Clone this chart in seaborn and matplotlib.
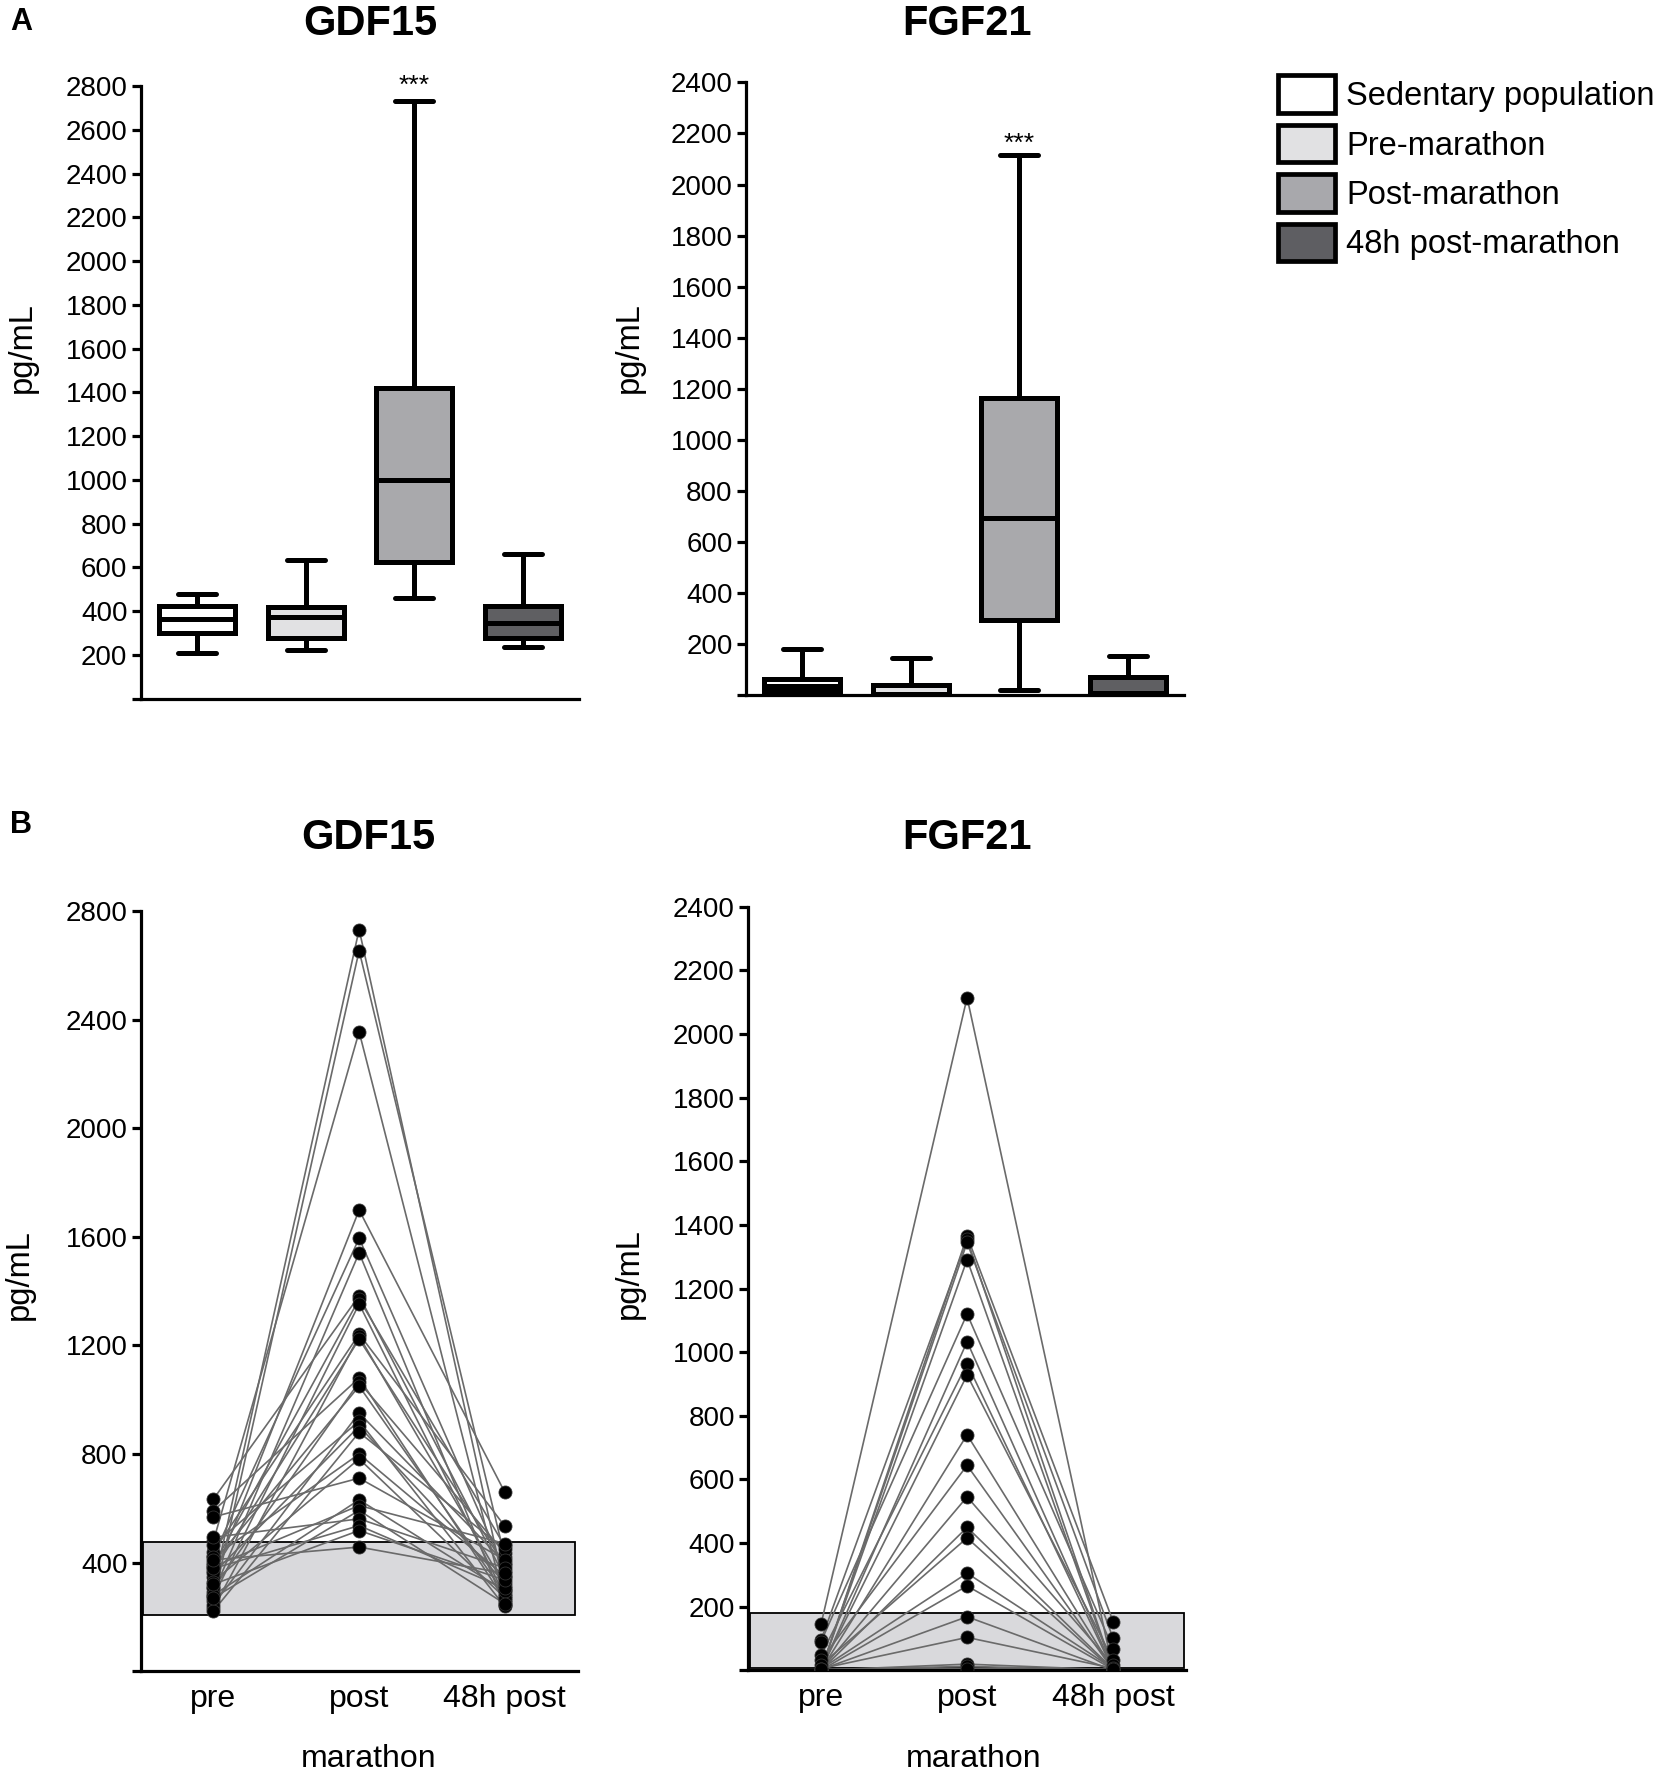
import numpy as np
import pandas as pd
import matplotlib.pyplot as plt
from matplotlib.patches import Patch
import seaborn as sns

sns.set_theme(style="ticks")
plt.rcParams['font.family'] = ['Liberation Sans', 'DejaVu Sans']
plt.rcParams['text.color'] = 'black'
plt.rcParams['axes.labelcolor'] = 'black'

# groups of panel A and their box fills
groups = ["Sedentary population", "Pre-marathon", "Post-marathon", "48h post-marathon"]
box_colors = ["#ffffff", "#e1e1e3", "#a8a8ac", "#5e5e62"]

# five-number summaries (min, q1, median, q3, max)
gdf15_sed = [206, 298, 362, 424, 476]
gdf15_pre = [221, 278, 374, 420, 634]
gdf15_post = [458, 622, 1000, 1420, 2730]
gdf15_48h = [237, 275, 347, 423, 660]

fgf21_sed = [8, 17, 37, 63, 180]
fgf21_pre = [0, 2, 4, 38, 144]
fgf21_post = [18, 292, 695, 1165, 2115]
fgf21_48h = [0, 3, 6, 69, 154]

# paired subjects of panel B
stages = ["pre", "post", "48h post"]
gdf15_b_pre = [310, 260, 480, 345, 425, 290, 634, 390, 275, 440, 232, 370, 591, 305, 400,
               245, 465, 360, 222, 420, 330, 568, 280, 385, 270, 493, 378, 320, 410]
gdf15_b_post = [2733, 2655, 2356, 1699, 1595, 1541, 1383, 1371, 1353, 1242, 1234, 1223, 1080, 1065, 1050,
                951, 921, 902, 880, 800, 782, 711, 631, 610, 592, 561, 536, 518, 457]
gdf15_b_48h = [300, 420, 255, 659, 370, 242, 345, 460, 278, 534, 315, 390, 262, 435, 285,
               400, 238, 325, 448, 350, 270, 410, 295, 470, 248, 380, 305, 335, 360]

fgf21_b_pre = [145, 0, 95, 0, 2, 90, 0, 47, 3, 0, 32, 1, 0, 16, 4, 0, 2, 5, 0, 1, 3]
fgf21_b_post = [2115, 1365, 1355, 1345, 1291, 1120, 1033, 964, 928, 740, 644, 545, 449, 416, 305,
                265, 168, 103, 19, 12, 5]
fgf21_b_48h = [0, 153, 2, 100, 0, 68, 4, 0, 32, 1, 0, 16, 3, 0, 5, 2, 0, 6, 1, 0, 3]


def box_frame(summaries):
    rows = []
    for g, vals in zip(groups, summaries):
        for v in vals:
            rows.append({"group": g, "value": v})
    return pd.DataFrame(rows)


def paired_frame(pre, post, h48):
    rows = []
    for i in range(len(post)):
        for st, vals in zip(stages, [pre, post, h48]):
            rows.append({"subject": i, "stage": st, "value": vals[i]})
    return pd.DataFrame(rows)


def style_y(ax, top, step, size=20):
    ticks = np.arange(0, top + 1, step)
    ax.set_yticks(ticks)
    ax.set_yticklabels([""] + [str(t) for t in ticks[1:]])
    ax.set_ylim(0, top)
    ax.tick_params(axis="y", length=6.5, width=2.3, labelsize=size, pad=3, colors="black")
    for s in ["left", "bottom"]:
        ax.spines[s].set_linewidth(2.3)
        ax.spines[s].set_color("black")
    sns.despine(ax=ax)


def box_panel(ax, summaries, top, step, star_off):
    df = box_frame(summaries)
    sns.boxplot(data=df, x="group", y="value", hue="group", palette=box_colors,
                whis=(0, 100), width=0.7, linewidth=3.6, linecolor="black",
                fliersize=0, legend=False, ax=ax)
    for p in ax.patches:
        p.set_edgecolor("black")
    style_y(ax, top, step)
    ax.set_xlim(-0.52, 3.52)
    ax.set_xticks([])
    ax.set_xlabel("")
    ax.set_ylabel("pg/mL", fontsize=23.5)
    ax.annotate("***", xy=(2, summaries[2][-1]), xytext=(0, star_off),
                textcoords="offset points", ha="center", va="center", fontsize=19)


def pair_panel(ax, pre, post, h48, sed, top, step):
    df = paired_frame(pre, post, h48)
    ax.axhspan(sed[0], sed[-1], xmin=0.005, xmax=0.995, facecolor="#d9d9dc",
               edgecolor="black", linewidth=1.3, zorder=0)
    sns.lineplot(data=df, x="stage", y="value", units="subject", estimator=None,
                 color="#6a6a6a", linewidth=1.2, legend=False, ax=ax, zorder=2)
    sns.scatterplot(data=df, x="stage", y="value", color="black", s=88,
                    edgecolor="#333333", linewidth=0.6, legend=False, ax=ax, zorder=3)
    style_y(ax, top, step)
    ax.set_xlim(-0.5, 2.5)
    ax.tick_params(axis="x", length=0, labelsize=23, pad=9, colors="black")
    ax.set_xlabel("marathon", fontsize=23)
    ax.set_ylabel("pg/mL", fontsize=23.5)


fig = plt.figure(figsize=(16.55, 17.73), dpi=100)

ax1 = fig.add_axes([0.085, 0.606, 0.265, 0.3455])
ax2 = fig.add_axes([0.4507, 0.608, 0.2647, 0.3455])
ax3 = fig.add_axes([0.085, 0.0575, 0.264, 0.4285])
ax4 = fig.add_axes([0.452, 0.058, 0.2647, 0.4305])

box_panel(ax1, [gdf15_sed, gdf15_pre, gdf15_post, gdf15_48h], 2800, 200, 11)
box_panel(ax2, [fgf21_sed, fgf21_pre, fgf21_post, fgf21_48h], 2400, 200, 8.5)
pair_panel(ax3, gdf15_b_pre, gdf15_b_post, gdf15_b_48h, gdf15_sed, 2800, 400)
pair_panel(ax4, fgf21_b_pre, fgf21_b_post, fgf21_b_48h, fgf21_sed, 2400, 200)

for ax, lx, ly in [(ax1, -0.269, 0.573), (ax2, -0.267, 0.568), (ax3, -0.277, 0.522), (ax4, -0.272, 0.520)]:
    ax.yaxis.set_label_coords(lx, ly)
    ax.yaxis.label.set_va("center")
for ax, lx in [(ax3, 0.522), (ax4, 0.516)]:
    ax.xaxis.set_label_coords(lx, -0.116)
    ax.xaxis.label.set_va("center")

# titles and panel letters
fig.text(0.2236, 0.9865, "GDF15", ha="center", va="center", fontsize=30, fontweight="bold")
fig.text(0.5843, 0.9865, "FGF21", ha="center", va="center", fontsize=30, fontweight="bold")
fig.text(0.2225, 0.5275, "GDF15", ha="center", va="center", fontsize=30, fontweight="bold")
fig.text(0.5843, 0.5275, "FGF21", ha="center", va="center", fontsize=30, fontweight="bold")
fig.text(0.006, 0.9875, "A", ha="left", va="center", fontsize=22, fontweight="bold")
fig.text(0.006, 0.5348, "B", ha="left", va="center", fontsize=22, fontweight="bold")

handles = [Patch(facecolor=c, edgecolor="black", linewidth=3.4) for c in box_colors]
fig.legend(handles, groups, loc="upper left", bbox_to_anchor=(0.7725, 0.9575),
           frameon=False, fontsize=23.5, handlelength=1.72, handleheight=1.4,
           labelspacing=0.36, handletextpad=0.35, borderpad=0, borderaxespad=0)

fig.savefig("out.png", dpi=100)
